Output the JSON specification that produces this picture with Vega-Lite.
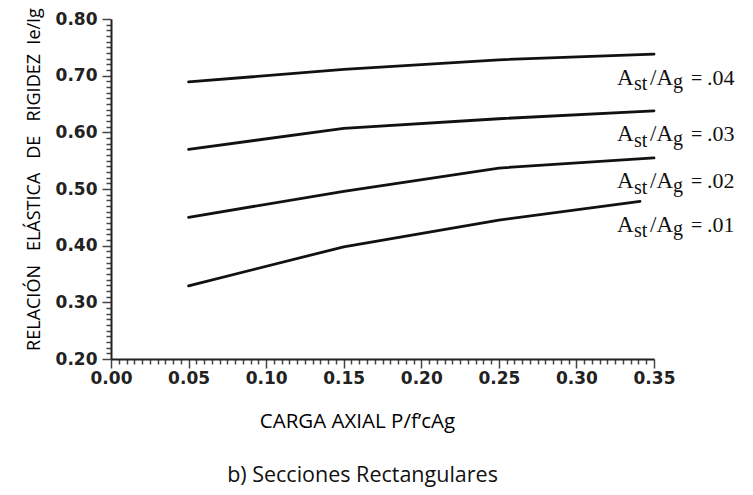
{
  "$schema": "https://vega.github.io/schema/vega-lite/v6.json",
  "width": 543,
  "height": 340,
  "autosize": {"type": "none"},
  "padding": {"left": 111, "top": 19, "right": 99, "bottom": 136},
  "background": "white",
  "view": {"stroke": null},
  "title": {
    "text": "b) Secciones Rectangulares",
    "orient": "bottom",
    "frame": "group",
    "anchor": "middle",
    "offset": 50,
    "baseline": "alphabetic",
    "dx": -20,
    "font": "Open Sans",
    "fontSize": 21.5,
    "fontWeight": "normal",
    "color": "#111"
  },
  "data": {
    "values": [
      {"x": 0.05, "y": 0.689, "ratio": ".04"},
      {"x": 0.15, "y": 0.711, "ratio": ".04"},
      {"x": 0.25, "y": 0.728, "ratio": ".04"},
      {"x": 0.35, "y": 0.738, "ratio": ".04"},
      {"x": 0.05, "y": 0.570, "ratio": ".03"},
      {"x": 0.15, "y": 0.607, "ratio": ".03"},
      {"x": 0.25, "y": 0.624, "ratio": ".03"},
      {"x": 0.35, "y": 0.638, "ratio": ".03"},
      {"x": 0.05, "y": 0.450, "ratio": ".02"},
      {"x": 0.15, "y": 0.496, "ratio": ".02"},
      {"x": 0.25, "y": 0.537, "ratio": ".02"},
      {"x": 0.35, "y": 0.555, "ratio": ".02"},
      {"x": 0.05, "y": 0.329, "ratio": ".01"},
      {"x": 0.15, "y": 0.398, "ratio": ".01"},
      {"x": 0.25, "y": 0.445, "ratio": ".01"},
      {"x": 0.341, "y": 0.478, "ratio": ".01"}
    ]
  },
  "encoding": {
    "x": {
      "field": "x",
      "type": "quantitative",
      "scale": {"domain": [0, 0.35], "nice": false, "zero": false},
      "axis": {
        "values": [0,0.005,0.01,0.015,0.02,0.025,0.03,0.035,0.04,0.045,0.05,0.055,0.06,0.065,0.07,0.075,0.08,0.085,0.09,0.095,0.1,0.105,0.11,0.115,0.12,0.125,0.13,0.135,0.14,0.145,0.15,0.155,0.16,0.165,0.17,0.175,0.18,0.185,0.19,0.195,0.2,0.205,0.21,0.215,0.22,0.225,0.23,0.235,0.24,0.245,0.25,0.255,0.26,0.265,0.27,0.275,0.28,0.285,0.29,0.295,0.3,0.305,0.31,0.315,0.32,0.325,0.33,0.335,0.34,0.345,0.35],
        "labelExpr": "abs(datum.value*20 - round(datum.value*20)) < 0.001 ? format(datum.value, '.2f') : ''",
        "tickSize": {"condition": {"test": "abs(datum.value*20 - round(datum.value*20)) < 0.001", "value": 9}, "value": 5},
        "labelFont": "DejaVu Sans",
        "labelFontWeight": "bold",
        "labelFontSize": 17,
        "labelColor": "#222",
        "labelPadding": 2,
        "labelOverlap": false,
        "labelFlush": false,
        "labelBound": false,
        "domainColor": "#222",
        "domainWidth": 2,
        "tickColor": "#444",
        "tickWidth": 1.5,
        "grid": false,
        "title": "CARGA AXIAL P/f’cAg",
        "titleFont": "Open Sans",
        "titleFontSize": 20.5,
        "titleFontWeight": "normal",
        "titleColor": "#000",
        "titleX": 246,
        "titleY": 68,
        "titleAlign": "center",
        "titleBaseline": "alphabetic"
      }
    },
    "y": {
      "field": "y",
      "type": "quantitative",
      "scale": {"domain": [0.2, 0.8], "nice": false, "zero": false},
      "axis": {
        "values": [0.2,0.21,0.22,0.23,0.24,0.25,0.26,0.27,0.28,0.29,0.3,0.31,0.32,0.33,0.34,0.35,0.36,0.37,0.38,0.39,0.4,0.41,0.42,0.43,0.44,0.45,0.46,0.47,0.48,0.49,0.5,0.51,0.52,0.53,0.54,0.55,0.56,0.57,0.58,0.59,0.6,0.61,0.62,0.63,0.64,0.65,0.66,0.67,0.68,0.69,0.7,0.71,0.72,0.73,0.74,0.75,0.76,0.77,0.78,0.79,0.8],
        "labelExpr": "abs(datum.value*10 - round(datum.value*10)) < 0.001 ? format(datum.value, '.2f') : ''",
        "tickSize": {"condition": {"test": "abs(datum.value*10 - round(datum.value*10)) < 0.001", "value": 9}, "value": 5},
        "labelFont": "DejaVu Sans",
        "labelFontWeight": "bold",
        "labelFontSize": 17,
        "labelColor": "#222",
        "labelPadding": 5,
        "labelOverlap": false,
        "labelFlush": false,
        "labelBound": false,
        "domainColor": "#222",
        "domainWidth": 2,
        "tickColor": "#444",
        "tickWidth": 1.5,
        "grid": false,
        "title": "RELACIÓN\u00a0\u00a0 ELÁSTICA\u00a0\u00a0 DE\u00a0\u00a0 RIGIDEZ\u00a0 Ie/Ig",
        "titleFont": "Open Sans",
        "titleFontSize": 18,
        "titleFontWeight": "normal",
        "titleColor": "#000",
        "titleAngle": -90,
        "titleX": -72,
        "titleY": 160,
        "titleAlign": "center",
        "titleBaseline": "alphabetic"
      }
    }
  },
  "layer": [
    {
      "mark": {"type": "line", "color": "#111", "strokeWidth": 2.8, "strokeCap": "round"},
      "encoding": {
        "detail": {"field": "ratio"},
        "order": {"field": "x"}
      }
    },
    {
      "transform": [
        {"joinaggregate": [{"op": "max", "field": "x", "as": "xmax"}], "groupby": ["ratio"]},
        {"filter": "datum.x == datum.xmax"}
      ],
      "encoding": {
        "x": {"datum": 0.35, "type": "quantitative"},
        "y": {"field": "y", "type": "quantitative"}
      },
      "layer": [
        {"mark": {"type": "text", "font": "Liberation Serif", "fontSize": 23, "color": "#111", "align": "left", "baseline": "alphabetic", "dx": -37, "dy": 30.5}, "encoding": {"text": {"value": "A"}}},
        {"mark": {"type": "text", "font": "Liberation Serif", "fontSize": 20, "color": "#111", "align": "left", "baseline": "alphabetic", "dx": -20, "dy": 36}, "encoding": {"text": {"value": "st"}}},
        {"mark": {"type": "text", "font": "Liberation Serif", "fontSize": 23, "color": "#111", "align": "left", "baseline": "alphabetic", "dx": -4, "dy": 30.5}, "encoding": {"text": {"value": "/A"}}},
        {"mark": {"type": "text", "font": "Liberation Serif", "fontSize": 20, "color": "#111", "align": "left", "baseline": "alphabetic", "dx": 19, "dy": 34}, "encoding": {"text": {"value": "g"}}},
        {"mark": {"type": "text", "font": "Liberation Serif", "fontSize": 20, "color": "#111", "align": "left", "baseline": "alphabetic", "dx": 37, "dy": 30.5}, "encoding": {"text": {"value": "="}}},
        {"mark": {"type": "text", "font": "Liberation Serif", "fontSize": 22, "color": "#111", "align": "left", "baseline": "alphabetic", "dx": 53, "dy": 30.5}, "encoding": {"text": {"field": "ratio"}}}
      ]
    }
  ]
}
